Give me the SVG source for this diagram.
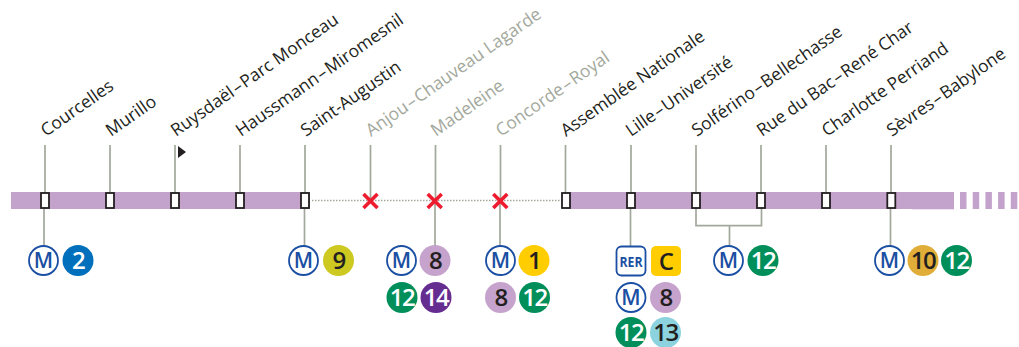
<svg xmlns="http://www.w3.org/2000/svg" width="1019" height="347" viewBox="0 0 1019 347">
<style>
.st{font-family:"Open Sans","Noto Sans",sans-serif;font-size:17.4px;fill:#231f20}
.off{fill:#a3a89c}
.ln{stroke:#a3a89c;stroke-width:1.7;fill:none}
.box{fill:#fff;stroke:#231f20;stroke-width:1.8}
.x{stroke:#ed1c2e;stroke-width:3.6;fill:none}
.m{fill:#fff;stroke:#1b4fa3;stroke-width:1.8}
.mt{font-family:"Open Sans","Noto Sans",sans-serif;font-size:21px;font-weight:600;fill:#1b4fa3;text-anchor:middle}
.n{font-family:"Open Sans","Noto Sans",sans-serif;font-size:24px;font-weight:600;text-anchor:middle;fill:#231f20;letter-spacing:-1.5px}
.w{fill:#fff}
.band{fill:#c3a2cc}
.l8{fill:#c5a3cd}.l12{fill:#008f5a}
</style>
<g id="line">
<rect class="band" x="11" y="192" width="299" height="17"/>
<rect class="band" x="566" y="192" width="388" height="17"/>
<rect x="912" y="209" width="42" height="1" fill="#efe5f1"/>
<path d="M960 200.500H1018" stroke="#c3a2cc" stroke-width="17" stroke-dasharray="6.500 6.200" fill="none"/>
<path d="M312 200.500H562" stroke="#a3a89c" stroke-width="1.300" stroke-dasharray="1.500 1.500" fill="none"/>
</g>
<g id="connectors">
<path class="ln" d="M45 145V193M110 145V193M175 145V193M240 145V193M305 145V193M370.500 145V200M435.500 145V200M500.500 145V200M565.500 145V193M631 145V193M696 145V193M761 145V193M826 145V193M891 145V193"/>
<path class="ln" d="M44 209V247M304.500 209V247M435 200V247M500 200V247M630.500 209V247M890.500 209V247"/>
<path class="ln" d="M696 209V225.700H761.500V209M729.500 225.700V247"/>
</g>
<g id="courcelles"><text class="st" transform="translate(46 137) rotate(-35)">Courcelles</text><rect class="box" x="41" y="193" width="8" height="15"/>
<circle class="m" cx="43.500" cy="260.500" r="14.500"/><text class="mt" x="43.500" y="268">M</text>
<circle cx="78" cy="260.500" r="15.500" fill="#0070bc"/><text class="n w" x="78" y="269">2</text></g>
<g id="murillo"><text class="st" transform="translate(111 137) rotate(-35)">Murillo</text><rect class="box" x="106" y="193" width="8" height="15"/></g>
<g id="ruysdael"><text class="st" transform="translate(176 137) rotate(-35)">Ruysdaël<tspan dx="1.500">–</tspan><tspan dx="1.500">Parc Monceau</tspan></text><rect class="box" x="171" y="193" width="8" height="15"/><path d="M178 146L186 152L178 158Z" fill="#231f20"/></g>
<g id="haussmann"><text class="st" transform="translate(241 137) rotate(-35)">Haussmann<tspan dx="1.500">–</tspan><tspan dx="1.500">Miromesnil</tspan></text><rect class="box" x="236" y="193" width="8" height="15"/></g>
<g id="saint-augustin"><text class="st" transform="translate(306 137) rotate(-35)">Saint-Augustin</text><rect class="box" x="301" y="193" width="8" height="15"/>
<circle class="m" cx="303.500" cy="260.500" r="14.500"/><text class="mt" x="303.500" y="268">M</text>
<circle cx="338.500" cy="260.500" r="15.500" fill="#cdc921"/><text class="n" x="338.500" y="269">9</text></g>
<g id="anjou"><text class="st off" transform="translate(371 137) rotate(-35)">Anjou<tspan dx="1.500">–</tspan><tspan dx="1.500">Chauveau Lagarde</tspan></text><path class="x" d="M363.500 194L377.500 208M377.500 194L363.500 208"/></g>
<g id="madeleine"><text class="st off" transform="translate(436 137) rotate(-35)">Madeleine</text><path class="x" d="M427.700 194L441.700 208M441.700 194L427.700 208"/>
<circle class="m" cx="401.500" cy="260.500" r="14.500"/><text class="mt" x="401.500" y="268">M</text>
<circle cx="435" cy="260.500" r="15.500" class="l8"/><text class="n" x="435" y="269">8</text>
<circle cx="402" cy="297.500" r="15.500" class="l12"/><text class="n w" x="402" y="306">12</text>
<circle cx="436" cy="297.500" r="15.500" fill="#662d91"/><text class="n w" x="436" y="306">14</text></g>
<g id="concorde"><text class="st off" transform="translate(501 137) rotate(-35)">Concorde<tspan dx="1.500">–</tspan><tspan dx="1.500">Royal</tspan></text><path class="x" d="M493.300 194L507.300 208M507.300 194L493.300 208"/>
<circle class="m" cx="500.500" cy="260.500" r="14.500"/><text class="mt" x="500.500" y="268">M</text>
<circle cx="534" cy="260.500" r="15.500" fill="#ffcd00"/><text class="n" x="534" y="269">1</text>
<circle cx="500.500" cy="297.500" r="15.500" class="l8"/><text class="n" x="500.500" y="306">8</text>
<circle cx="534.500" cy="297.500" r="15.500" class="l12"/><text class="n w" x="534.500" y="306">12</text></g>
<g id="assemblee"><text class="st" transform="translate(566 137) rotate(-35)">Assemblée Nationale</text><rect class="box" x="562" y="193" width="8" height="15"/></g>
<g id="lille"><text class="st" transform="translate(631 137) rotate(-35)">Lille<tspan dx="1.500">–</tspan><tspan dx="1.500">Université</tspan></text><rect class="box" x="627" y="193" width="8" height="15"/>
<rect x="616.500" y="246.500" width="29" height="29" rx="5" class="m"/><text x="631" y="266.500" font-family="Open Sans, Noto Sans, sans-serif" font-size="15" font-weight="700" fill="#1b4fa3" text-anchor="middle" textLength="23" lengthAdjust="spacingAndGlyphs">RER</text>
<rect x="651" y="246" width="30" height="30" rx="5" fill="#ffcd00"/><text class="n" x="665.500" y="269.500">C</text>
<circle class="m" cx="631" cy="297.500" r="14.500"/><text class="mt" x="631" y="305">M</text>
<circle cx="665.500" cy="297.500" r="15.500" class="l8"/><text class="n" x="665.500" y="306">8</text>
<circle cx="631" cy="332.500" r="15.500" class="l12"/><text class="n w" x="631" y="341">12</text>
<circle cx="665.500" cy="332.500" r="15.500" fill="#8cd3df"/><text class="n" x="665.500" y="341">13</text></g>
<g id="solferino"><text class="st" transform="translate(697 137) rotate(-35)">Solférino<tspan dx="1.500">–</tspan><tspan dx="1.500">Bellechasse</tspan></text><rect class="box" x="692" y="193" width="8" height="15"/></g>
<g id="rue-du-bac"><text class="st" transform="translate(762 137) rotate(-35)">Rue du Bac<tspan dx="1.500">–</tspan><tspan dx="1.500">René Char</tspan></text><rect class="box" x="757" y="193" width="8" height="15"/>
<circle class="m" cx="728.500" cy="260.500" r="14.500"/><text class="mt" x="728.500" y="268">M</text>
<circle cx="763" cy="260.500" r="15.500" class="l12"/><text class="n w" x="763" y="269">12</text></g>
<g id="perriand"><text class="st" transform="translate(827 137) rotate(-35)">Charlotte Perriand</text><rect class="box" x="822" y="193" width="8" height="15"/></g>
<g id="sevres"><text class="st" transform="translate(892 137) rotate(-35)">Sèvres<tspan dx="1.500">–</tspan><tspan dx="1.500">Babylone</tspan></text><rect class="box" x="887.300" y="193" width="8" height="15"/>
<circle class="m" cx="889.500" cy="260.500" r="14.500"/><text class="mt" x="889.500" y="268">M</text>
<circle cx="923" cy="260.500" r="15.500" fill="#e0ae38"/><text class="n" x="923" y="269">10</text>
<circle cx="956.500" cy="260.500" r="15.500" class="l12"/><text class="n w" x="956.500" y="269">12</text></g>
</svg>
